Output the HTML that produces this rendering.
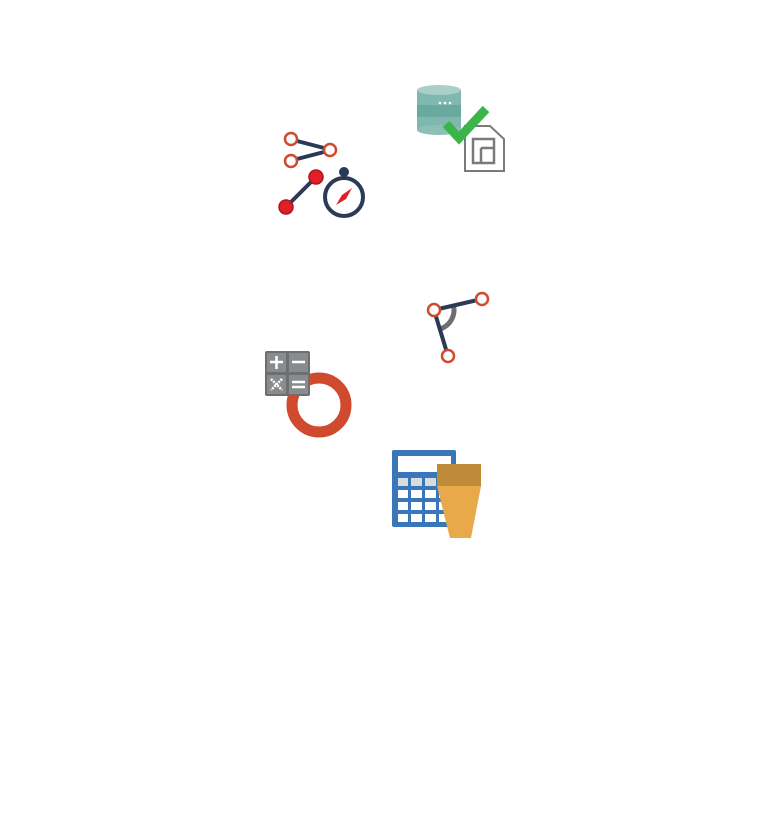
<!DOCTYPE html>
<html><head><style>html,body{margin:0;padding:0;background:#fff;width:768px;height:823px;overflow:hidden}</style></head>
<body>
<svg width="768" height="823" viewBox="0 0 768 823" xmlns="http://www.w3.org/2000/svg">
<!-- icon 1 -->
<g stroke="#2b3a55" stroke-width="4" stroke-linecap="round">
<line x1="297" y1="141" x2="324" y2="148"/><line x1="297" y1="159" x2="324" y2="152"/>
<line x1="286" y1="207" x2="316" y2="177"/>
</g>
<g fill="#fff" stroke="#d04a2e" stroke-width="2.5">
<circle cx="291" cy="139" r="6"/><circle cx="330" cy="150" r="6"/><circle cx="291" cy="161" r="6"/>
</g>
<circle cx="286" cy="207" r="7" fill="#e01f26" stroke="#a8181c" stroke-width="1.5"/>
<circle cx="316" cy="177" r="7" fill="#e01f26" stroke="#a8181c" stroke-width="1.5"/>
<circle cx="344" cy="172" r="5" fill="#2b3a55"/>
<circle cx="344" cy="197" r="19" fill="#fff" stroke="#2b3a55" stroke-width="4"/>
<polygon points="352,188 346,199 336,205 342,195" fill="#e01f26"/>
<!-- icon 2 -->
<rect x="417" y="90" width="44" height="40" fill="#7fb8ae"/>
<rect x="417" y="105" width="44" height="12" fill="#6aa99e"/>
<ellipse cx="439" cy="130" rx="22" ry="5" fill="#8cc0b6"/>
<ellipse cx="439" cy="90" rx="22" ry="5" fill="#a8d0c8"/>
<circle cx="440" cy="103" r="1.3" fill="#fff"/><circle cx="445" cy="103" r="1.3" fill="#fff"/><circle cx="450" cy="103" r="1.3" fill="#fff"/>
<path d="M465,126 H490 L504,139 V171 H465 Z" fill="#fff" stroke="#7a7a7a" stroke-width="2"/>
<path d="M473,139 H494 V163 H473 Z M481,148 H494 M481,148 V163" fill="none" stroke="#7a7a7a" stroke-width="2.5"/>
<polyline points="446,124 459,138 486,109" fill="none" stroke="#3bb54a" stroke-width="9"/>
<!-- icon 3 -->
<path d="M453.5,305.5 A20 20 0 0 1 439.8,329.1" fill="none" stroke="#6d6e70" stroke-width="5"/>
<g stroke="#2b3a55" stroke-width="4"><line x1="434" y1="310" x2="482" y2="299"/><line x1="434" y1="310" x2="448" y2="356"/></g>
<g fill="#fff" stroke="#d04a2e" stroke-width="2.5">
<circle cx="434" cy="310" r="6"/><circle cx="482" cy="299" r="6"/><circle cx="448" cy="356" r="6"/>
</g>
<!-- icon 4 -->
<circle cx="319" cy="405" r="27" fill="none" stroke="#d04a2e" stroke-width="11"/>
<rect x="265" y="351" width="45" height="45" rx="2" fill="#6d6e70"/>
<g fill="#8a8b8d"><rect x="267" y="353" width="19" height="19"/><rect x="289" y="353" width="19" height="19"/><rect x="267" y="375" width="19" height="19"/><rect x="289" y="375" width="19" height="19"/></g>
<g stroke="#fff" stroke-width="2.5"><line x1="270" y1="362" x2="283" y2="362"/><line x1="276.5" y1="356" x2="276.5" y2="369"/><line x1="292" y1="362" x2="305" y2="362"/>
<line x1="271" y1="379" x2="282" y2="390" stroke-dasharray="2 1"/><line x1="282" y1="379" x2="271" y2="390" stroke-dasharray="2 1"/>
<line x1="292" y1="382" x2="305" y2="382"/><line x1="292" y1="387" x2="305" y2="387"/></g>
<!-- icon 5 -->
<rect x="392" y="450" width="64" height="77" rx="2" fill="#3a77b8"/>
<rect x="398" y="456" width="53" height="16" fill="#fff"/>
<g fill="#fff">
<rect x="398" y="478" width="10" height="8" fill="#d6dedd"/><rect x="411" y="478" width="11" height="8" fill="#d6dedd"/><rect x="425" y="478" width="11" height="8" fill="#d6dedd"/><rect x="439" y="478" width="11" height="8" fill="#d6dedd"/>
<rect x="398" y="490" width="10" height="8"/><rect x="411" y="490" width="11" height="8"/><rect x="425" y="490" width="11" height="8"/><rect x="439" y="490" width="11" height="8"/>
<rect x="398" y="502" width="10" height="8"/><rect x="411" y="502" width="11" height="8"/><rect x="425" y="502" width="11" height="8"/><rect x="439" y="502" width="11" height="8"/>
<rect x="398" y="514" width="10" height="8"/><rect x="411" y="514" width="11" height="8"/><rect x="425" y="514" width="11" height="8"/><rect x="439" y="514" width="11" height="8"/>
</g>
<rect x="437" y="464" width="44" height="22" fill="#bf8b3b"/>
<polygon points="437,486 481,486 471,538 450,538" fill="#e8a94a"/>
</svg>
</body></html>
